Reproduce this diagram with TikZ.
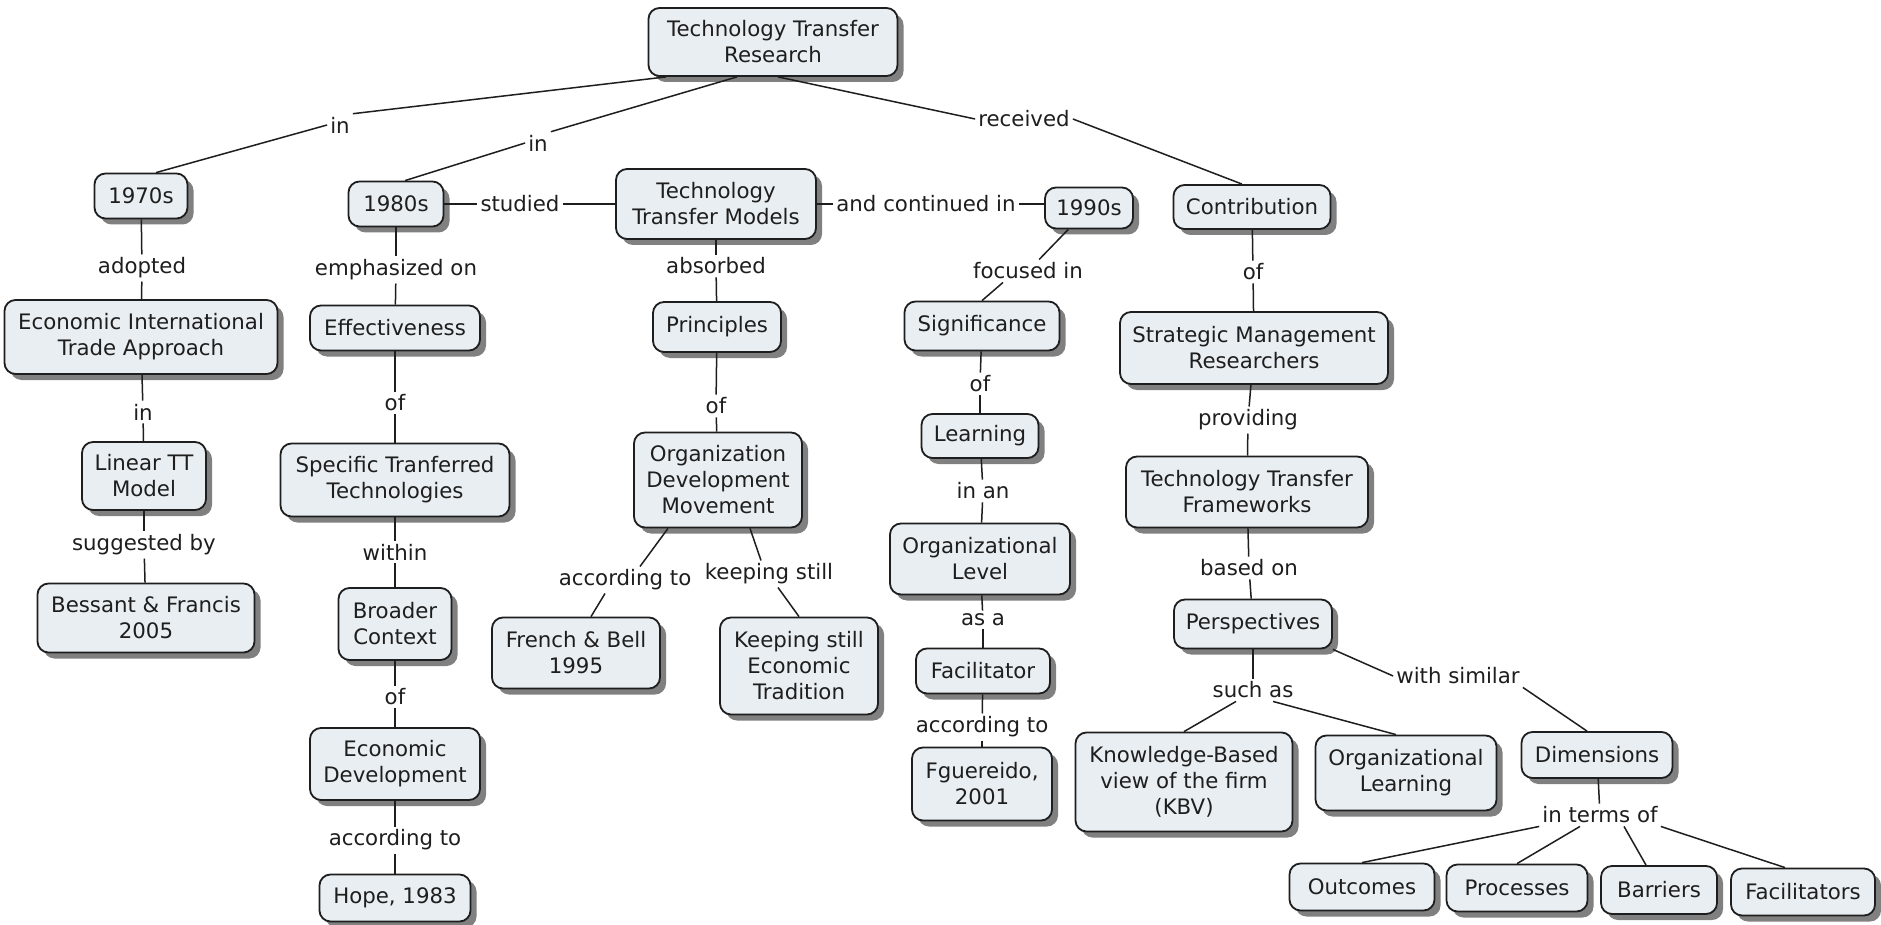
\documentclass[tikz,border=0pt]{standalone}
\usepackage{fontspec}
\setmainfont{DejaVu Sans}
\usetikzlibrary{shadows}
\definecolor{cfill}{HTML}{E8EEF2}
\definecolor{shgray}{HTML}{808080}
\definecolor{ink}{HTML}{1E1E1E}
\begin{document}
\begin{tikzpicture}[x=1pt,y=1pt,
  concept/.style={draw=ink, line width=1.8pt, rounded corners=11pt, fill=cfill,
    align=center, inner sep=4pt, text=ink,
    drop shadow={shadow xshift=6pt, shadow yshift=-6pt, fill=shgray, opacity=1},
    font=\fontsize{21.3}{26}\selectfont},
  lbl/.style={inner sep=3pt, text=ink, font=\fontsize{21.3}{26}\selectfont},
  link/.style={line width=1.5pt, draw=ink}]
\useasboundingbox (0,0) rectangle (1881,-925);
\fill[white] (0,0) rectangle (1881,-925);
% concepts
\node[concept, minimum width=249pt, minimum height=68pt] (root) at (773,-42) {Technology Transfer\\Research};
\node[concept, minimum width=93pt, minimum height=45pt] (n70) at (141,-196) {1970s};
\node[concept, minimum width=95pt, minimum height=45pt] (n80) at (396,-204) {1980s};
\node[concept, minimum width=200pt, minimum height=70pt] (ttm) at (716,-204) {Technology\\Transfer Models};
\node[concept, minimum width=88pt, minimum height=41pt] (n90) at (1089,-208) {1990s};
\node[concept, minimum width=157pt, minimum height=44pt] (contr) at (1252,-207) {Contribution};
\node[concept, minimum width=273pt, minimum height=74pt] (eita) at (141,-337) {Economic International\\Trade Approach};
\node[concept, minimum width=124pt, minimum height=68pt] (lin) at (144,-476) {Linear TT\\Model};
\node[concept, minimum width=217pt, minimum height=69pt] (bes) at (146,-618) {Bessant \& Francis\\2005};
\node[concept, minimum width=170pt, minimum height=45pt] (eff) at (395,-328) {Effectiveness};
\node[concept, minimum width=229pt, minimum height=73pt] (spec) at (395,-480) {Specific Tranferred\\Technologies};
\node[concept, minimum width=113pt, minimum height=72pt] (broad) at (395,-624) {Broader\\Context};
\node[concept, minimum width=170pt, minimum height=72pt] (ecod) at (395,-764) {Economic\\Development};
\node[concept, minimum width=151pt, minimum height=47pt] (hope) at (395,-898) {Hope, 1983};
\node[concept, minimum width=128pt, minimum height=50pt] (prin) at (717,-327) {Principles};
\node[concept, minimum width=168pt, minimum height=95pt] (odm) at (718,-480) {Organization\\Development\\Movement};
\node[concept, minimum width=168pt, minimum height=71pt] (fb) at (576,-653) {French \& Bell\\1995};
\node[concept, minimum width=158pt, minimum height=97pt] (kse) at (799,-666) {Keeping still\\Economic\\Tradition};
\node[concept, minimum width=155pt, minimum height=49pt] (sig) at (982,-326) {Significance};
\node[concept, minimum width=117pt, minimum height=44pt] (learn) at (980,-436) {Learning};
\node[concept, minimum width=180pt, minimum height=71pt] (olev) at (980,-559) {Organizational\\Level};
\node[concept, minimum width=134pt, minimum height=45pt] (facil) at (983,-671) {Facilitator};
\node[concept, minimum width=140pt, minimum height=73pt] (fgu) at (982,-784) {Fguereido,\\2001};
\node[concept, minimum width=268pt, minimum height=72pt] (smr) at (1254,-348) {Strategic Management\\Researchers};
\node[concept, minimum width=242pt, minimum height=71pt] (ttf) at (1247,-492) {Technology Transfer\\Frameworks};
\node[concept, minimum width=158pt, minimum height=49pt] (persp) at (1253,-624) {Perspectives};
\node[concept, minimum width=217pt, minimum height=99pt] (kbv) at (1184,-782) {Knowledge-Based\\view of the firm\\(KBV)};
\node[concept, minimum width=181pt, minimum height=75pt] (olearn) at (1406,-773) {Organizational\\Learning};
\node[concept, minimum width=151pt, minimum height=46pt] (dim) at (1597,-755) {Dimensions};
\node[concept, minimum width=145pt, minimum height=47pt] (out) at (1362,-887) {Outcomes};
\node[concept, minimum width=141pt, minimum height=47pt] (proc) at (1517,-888) {Processes};
\node[concept, minimum width=116pt, minimum height=48pt] (bar) at (1659,-890) {Barriers};
\node[concept, minimum width=144pt, minimum height=47pt] (fac) at (1803,-892) {Facilitators};
% link labels
\node[lbl] (l1) at (340,-125) {in};
\node[lbl] (l2) at (538,-143) {in};
\node[lbl] (l3) at (1024,-119) {received};
\node[lbl] (l4) at (520,-204) {studied};
\node[lbl] (l5) at (926,-204) {and continued in};
\node[lbl] (l6) at (142,-268) {adopted};
\node[lbl] (l7) at (396,-270) {emphasized on};
\node[lbl] (l8) at (716,-266) {absorbed};
\node[lbl] (l9) at (1028,-271) {focused in};
\node[lbl] (l10) at (1253,-272) {of};
\node[lbl] (l11) at (143,-412) {in};
\node[lbl] (l12) at (395,-403) {of};
\node[lbl] (l13) at (716,-406) {of};
\node[lbl] (l14) at (980,-384) {of};
\node[lbl] (l15) at (1248,-420) {providing};
\node[lbl] (l16) at (144,-545) {suggested by};
\node[lbl] (l17) at (395,-552) {within};
\node[lbl] (l18) at (983,-491) {in an};
\node[lbl] (l19) at (1249,-568) {based on};
\node[lbl] (l20) at (625,-580) {according to};
\node[lbl] (l21) at (769,-574) {keeping still};
\node[lbl] (l22) at (983,-620) {as a};
\node[lbl] (l23) at (395,-697) {of};
\node[lbl] (l24) at (1253,-690) {such as};
\node[lbl] (l25) at (1458,-676) {with similar};
\node[lbl] (l26) at (982,-727) {according to};
\node[lbl] (l27) at (395,-840) {according to};
\node[lbl] (l28) at (1600,-815) {in terms of};
% connectors
\draw[link] ([xshift=-107pt]root.south) -- (l1.north east);
\draw[link] (l1.west) -- ([xshift=15pt]n70.north);
\draw[link] ([xshift=-36pt]root.south) -- (l2.north east);
\draw[link] (l2.west) -- ([xshift=9pt]n80.north);
\draw[link] ([xshift=5pt]root.south) -- (l3.west);
\draw[link] (l3.east) -- ([xshift=-10pt]contr.north);
\draw[link] (n80.east) -- (l4.west);
\draw[link] (l4.east) -- (ttm.west);
\draw[link] (ttm.east) -- (l5.west);
\draw[link] (l5.east) -- (l5.east -| n90.west);
\draw[link] (n70) -- (l6);
\draw[link] (l6) -- (eita);
\draw[link] (eita) -- (l11);
\draw[link] (l11) -- (lin);
\draw[link] (lin) -- (l16);
\draw[link] (l16) -- (bes);
\draw[link] (n80) -- (l7);
\draw[link] (l7) -- (eff);
\draw[link] (eff) -- (l12);
\draw[link] (l12) -- (spec);
\draw[link] (spec) -- (l17);
\draw[link] (l17) -- (broad);
\draw[link] (broad) -- (l23);
\draw[link] (l23) -- (ecod);
\draw[link] (ecod) -- (l27);
\draw[link] (l27) -- (hope);
\draw[link] (ttm) -- (l8);
\draw[link] (l8) -- (prin);
\draw[link] (prin) -- (l13);
\draw[link] (l13) -- (odm);
\draw[link] ([xshift=-50pt]odm.south) -- ([xshift=15pt]l20.north);
\draw[link] ([xshift=-20pt]l20.south) -- ([xshift=15pt]fb.north);
\draw[link] ([xshift=32pt]odm.south) -- ([xshift=-8pt]l21.north);
\draw[link] ([xshift=9pt]l21.south) -- (kse.north);
\draw[link] (n90) -- (l9);
\draw[link] ([xshift=-25pt]l9.south) -- (sig.north);
\draw[link] (sig) -- (l14);
\draw[link] (l14) -- (learn);
\draw[link] (learn) -- (l18);
\draw[link] (l18) -- (olev);
\draw[link] (olev) -- (l22);
\draw[link] (l22) -- (facil);
\draw[link] (facil) -- (l26);
\draw[link] (l26) -- (fgu);
\draw[link] (contr) -- (l10);
\draw[link] (l10) -- (smr);
\draw[link] (smr) -- (l15);
\draw[link] (l15) -- (ttf);
\draw[link] (ttf) -- (l19);
\draw[link] (l19) -- (persp);
\draw[link] (persp) -- (l24);
\draw[link] ([xshift=-17pt]l24.south) -- (kbv.north);
\draw[link] ([xshift=20pt]l24.south) -- ([xshift=-10pt]olearn.north);
\draw[link] (persp.south east) -- (l25.west);
\draw[link] (l25.south east) -- ([xshift=-10pt]dim.north);
\draw[link] (dim) -- (l28);
\draw[link] (l28.south west) -- (out.north);
\draw[link] ([xshift=-20pt]l28.south) -- (proc.north);
\draw[link] ([xshift=24pt]l28.south) -- ([xshift=-13pt]bar.north);
\draw[link] (l28.south east) -- ([xshift=-18pt]fac.north);
\end{tikzpicture}
\end{document}
